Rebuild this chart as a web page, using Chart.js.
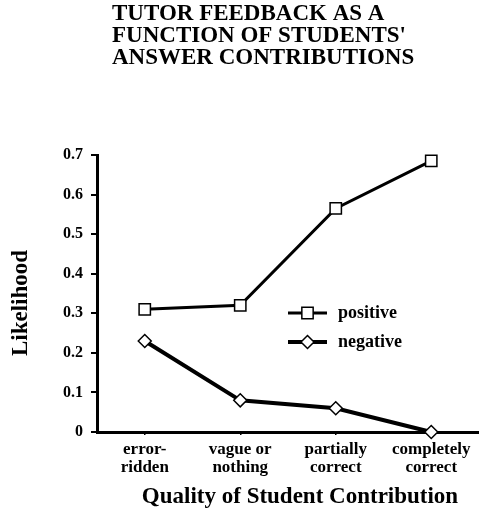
<!DOCTYPE html>
<html>
<head>
<meta charset="utf-8">
<script src="https://cdn.jsdelivr.net/npm/chart.js@4/dist/chart.umd.min.js"></script>
<style>
  html, body { margin: 0; padding: 0; background: #fff; }
  #wrap { width: 479px; height: 514px; }
</style>
</head>
<body>
<div id="wrap"><canvas id="chart" width="479" height="514"></canvas></div>
<script>
// data
const categories = [['error-', 'ridden'], ['vague or', 'nothing'], ['partially', 'correct'], ['completely', 'correct']];
const positiveValues = [0.31, 0.32, 0.565, 0.685];
const negativeValues = [0.23, 0.08, 0.06, 0.0];
const titleLines = ['TUTOR FEEDBACK AS A', "FUNCTION OF STUDENTS'", 'ANSWER CONTRIBUTIONS'];
const yTicks = [0, 0.1, 0.2, 0.3, 0.4, 0.5, 0.6, 0.7];
const yTitle = 'Likelihood';
const xTitle = 'Quality of Student Contribution';

const SERIF = '"Liberation Serif", "Times New Roman", serif';

// title, axis titles and legend drawn by hand (layout of the original scan)
const decorPlugin = {
  id: 'decor',
  afterDraw(chart) {
    const ctx = chart.ctx;
    ctx.save();
    ctx.fillStyle = '#000';
    ctx.font = 'bold 23px ' + SERIF;
    ctx.textAlign = 'left';
    ctx.textBaseline = 'alphabetic';
    titleLines.forEach((t, i) => ctx.fillText(t, 112, 20 + i * 22));

    // axis titles
    ctx.font = 'bold 23px ' + SERIF;
    ctx.textAlign = 'center';
    ctx.fillText(xTitle, 300, 503);
    ctx.save();
    ctx.translate(27, 303);
    ctx.rotate(-Math.PI / 2);
    ctx.fillText(yTitle, 0, 0);
    ctx.restore();

    // legend
    chart.data.datasets.forEach((ds, i) => {
      const y = 313 + i * 29;
      ctx.strokeStyle = '#000';
      ctx.lineWidth = ds.borderWidth;
      ctx.beginPath(); ctx.moveTo(288, y); ctx.lineTo(327, y); ctx.stroke();
      ctx.fillStyle = '#fff';
      ctx.lineWidth = ds.pointBorderWidth;
      Chart.helpers.drawPoint(ctx, {
        pointStyle: ds.pointStyle, radius: ds.pointRadius, rotation: 0, borderWidth: ds.pointBorderWidth
      }, 307.5, y);
      ctx.fillStyle = '#000';
      ctx.font = 'bold 18px ' + SERIF;
      ctx.textAlign = 'left';
      ctx.textBaseline = 'middle';
      ctx.fillText(ds.label, 338, y);
    });
    ctx.restore();
  }
};

new Chart(document.getElementById('chart'), {
  type: 'line',
  data: {
    labels: categories,
    datasets: [
      {
        label: 'positive', data: positiveValues,
        borderColor: '#000', borderWidth: 3,
        pointStyle: 'rect', pointRadius: 8, pointBorderWidth: 1.5,
        pointBackgroundColor: '#fff', pointBorderColor: '#000',
        tension: 0, clip: false
      },
      {
        label: 'negative', data: negativeValues,
        borderColor: '#000', borderWidth: 4,
        pointStyle: 'rectRot', pointRadius: 6.5, pointBorderWidth: 1.5,
        pointBackgroundColor: '#fff', pointBorderColor: '#000',
        tension: 0, clip: false
      }
    ]
  },
  options: {
    responsive: false,
    animation: false,
    layout: { autoPadding: false, padding: { top: 155, right: 0, left: 0, bottom: 0 } },
    plugins: { legend: { display: false }, title: { display: false }, tooltip: { enabled: false } },
    scales: {
      x: {
        offset: true,
        afterFit(s) { s.height = 82; },
        grid: { drawOnChartArea: false, drawTicks: true, tickLength: 3, color: '#000', lineWidth: 1.5 },
        border: { display: true, color: '#000', width: 3 },
        ticks: { color: '#000', padding: 6, maxRotation: 0, autoSkip: false,
          font: { family: SERIF, size: 17, weight: 'bold', lineHeight: 1.05 } }
      },
      y: {
        min: 0, max: 0.7,
        afterFit(s) { s.width = 97; },
        afterBuildTicks(s) { s.ticks = yTicks.map(v => ({ value: v })); },
        grid: { drawOnChartArea: false, drawTicks: true, tickLength: 6, color: '#000', lineWidth: 2 },
        border: { display: true, color: '#000', width: 3 },
        ticks: { color: '#000', padding: 8,
          font: { family: SERIF, size: 16, weight: 'bold' } }
      }
    }
  },
  plugins: [decorPlugin]
});
</script>
</body>
</html>
